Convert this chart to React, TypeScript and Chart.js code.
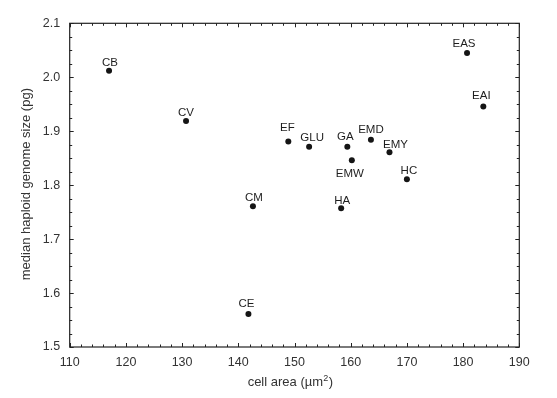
import React, { useEffect, useRef } from "react";
import { Chart, registerables } from "chart.js";

Chart.register(...registerables);

const speciesLabels = ["CB", "CV", "CM", "CE", "EF", "GLU", "GA", "EMD", "EMW", "EMY", "HC", "HA", "EAS", "EAI"];
const cellArea = [117.0, 130.7, 142.6, 141.8, 148.9, 152.6, 159.4, 163.6, 160.2, 166.9, 170.0, 158.3, 180.7, 183.6];
const genomeSize = [2.012, 1.919, 1.761, 1.561, 1.881, 1.871, 1.871, 1.884, 1.846, 1.861, 1.811, 1.757, 2.045, 1.946];
// label placement relative to the point (dx, dy of text baseline), px
const labelOffsets: [number, number][] = [
  [1, -5], [0, -4.5], [1, -5], [-2, -7], [-1, -10], [3, -6], [-2, -7],
  [0, -7], [-2, 17], [6, -4], [2, -5], [1, -4], [-3, -6], [-2, -7],
];

const X_MIN = 110, X_MAX = 190, X_STEP = 10, X_MINOR = 2;
const Y_MIN = 1.5, Y_MAX = 2.1, Y_STEP = 0.1, Y_MINOR = 0.025;

const xTitleMain = "cell area (\u00b5m";
const xTitleSup = "2";
const xTitleEnd = ")";
const yTitle = "median haploid genome size (pg)";

const FONT = "'Liberation Sans', Arial, sans-serif";

const decorPlugin = {
  id: "decor",
  afterDraw(chart: any) {
    const { ctx, chartArea, scales } = chart;
    const { left, right, top, bottom } = chartArea;
    const xs = scales.x, ys = scales.y;
    ctx.save();
    // frame
    ctx.strokeStyle = "#222";
    ctx.lineWidth = 1.2;
    ctx.strokeRect(left, top, right - left, bottom - top);
    // inward ticks
    ctx.lineWidth = 1;
    ctx.beginPath();
    const nx = Math.round((X_MAX - X_MIN) / X_MINOR);
    for (let i = 0; i <= nx; i++) {
      const v = X_MIN + i * X_MINOR;
      const major = Math.abs(v / X_STEP - Math.round(v / X_STEP)) < 1e-6;
      const len = major ? 4 : 2.5;
      const px = Math.round(xs.getPixelForValue(v)) + 0.5;
      ctx.moveTo(px, bottom); ctx.lineTo(px, bottom - len);
      ctx.moveTo(px, top); ctx.lineTo(px, top + len);
    }
    const ny = Math.round((Y_MAX - Y_MIN) / Y_MINOR);
    for (let i = 0; i <= ny; i++) {
      const v = Y_MIN + i * Y_MINOR;
      const major = i % 4 === 0;
      const len = major ? 4 : 2.5;
      const py = Math.round(ys.getPixelForValue(v)) + 0.5;
      ctx.moveTo(left, py); ctx.lineTo(left + len, py);
      ctx.moveTo(right, py); ctx.lineTo(right - len, py);
    }
    ctx.stroke();

    // point labels
    ctx.fillStyle = "#1e1e1e";
    ctx.font = `11.5px ${FONT}`;
    ctx.textAlign = "center";
    ctx.textBaseline = "alphabetic";
    const meta = chart.getDatasetMeta(0);
    meta.data.forEach((pt: any, i: number) => {
      const [dx, dy] = labelOffsets[i];
      ctx.fillText(speciesLabels[i], pt.x + dx, pt.y + dy);
    });

    // x axis title with superscript
    ctx.fillStyle = "#333";
    ctx.textAlign = "left";
    ctx.textBaseline = "alphabetic";
    const mainFont = `13px ${FONT}`;
    const supFont = `9px ${FONT}`;
    ctx.font = mainFont;
    const w1 = ctx.measureText(xTitleMain).width;
    const w3 = ctx.measureText(xTitleEnd).width;
    ctx.font = supFont;
    const w2 = ctx.measureText(xTitleSup).width;
    const total = w1 + w2 + w3;
    let x0 = 290 - total / 2;
    const base = 386;
    ctx.font = mainFont;
    ctx.fillText(xTitleMain, x0, base);
    ctx.font = supFont;
    ctx.fillText(xTitleSup, x0 + w1 + 0.3, base - 5);
    ctx.font = mainFont;
    ctx.fillText(xTitleEnd, x0 + w1 + w2 + 0.6, base);

    // y axis title
    ctx.save();
    ctx.translate(26, (top + bottom) / 2 - 1);
    ctx.rotate(-Math.PI / 2);
    ctx.textAlign = "center";
    ctx.textBaseline = "middle";
    ctx.font = mainFont;
    ctx.fillText(yTitle, 0, 0);
    ctx.restore();
    ctx.restore();
  },
};

export default function App() {
  const ref = useRef<HTMLCanvasElement | null>(null);
  useEffect(() => {
    if (!ref.current) return;
    const chart = new Chart(ref.current, {
      type: "scatter",
      data: {
        datasets: [
          {
            data: cellArea.map((x, i) => ({ x, y: genomeSize[i] })),
            backgroundColor: "#151515",
            borderWidth: 0,
            pointRadius: 3,
          },
        ],
      },
      options: {
        animation: false,
        responsive: true,
        maintainAspectRatio: false,
        layout: { padding: { top: 23.3, right: 37.7, left: 0, bottom: 0 } },
        plugins: { legend: { display: false }, tooltip: { enabled: false } },
        scales: {
          x: {
            type: "linear",
            min: X_MIN,
            max: X_MAX,
            grid: { display: false, drawTicks: false },
            border: { display: false },
            ticks: {
              stepSize: X_STEP,
              padding: 8,
              color: "#333",
              font: { family: FONT, size: 12.5 },
              maxRotation: 0,
            },
            afterFit: (s: any) => { s.height = 51; },
          },
          y: {
            type: "linear",
            min: Y_MIN,
            max: Y_MAX,
            grid: { display: false, drawTicks: false },
            border: { display: false },
            ticks: {
              stepSize: Y_STEP,
              padding: 9.5,
              color: "#333",
              font: { family: FONT, size: 12.5 },
              callback: (v: any) => Number(v).toFixed(1),
            },
            afterFit: (s: any) => { s.width = 69.7; },
          },
        },
      },
      plugins: [decorPlugin],
    });
    return () => chart.destroy();
  }, []);
  return (
    <div style={{ position: "fixed", left: 0, top: 0, width: 557, height: 398, background: "#fff" }}>
      <canvas ref={ref} />
    </div>
  );
}
